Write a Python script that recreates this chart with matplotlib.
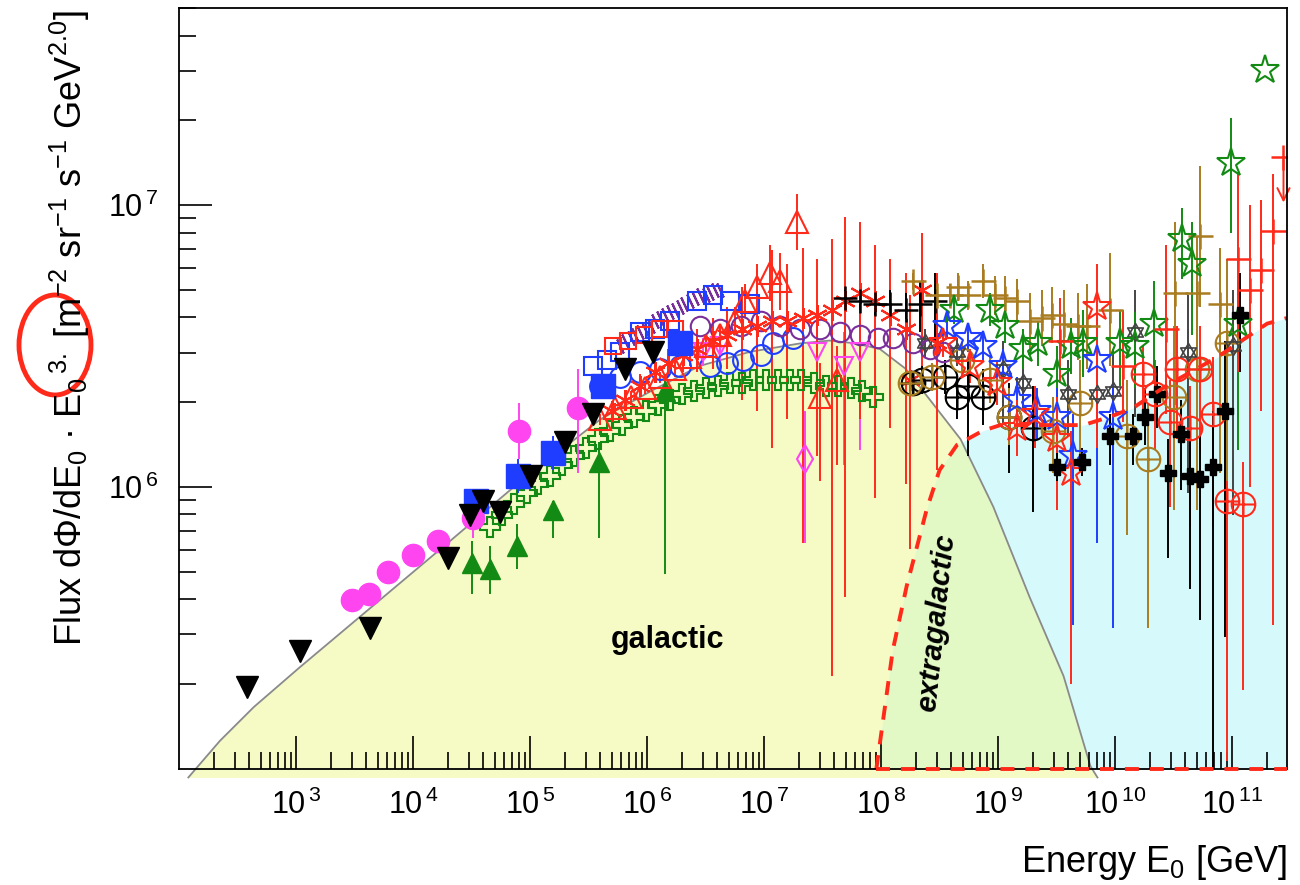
import numpy as np
import matplotlib.pyplot as plt
from matplotlib.path import Path
from matplotlib.patches import Ellipse
from matplotlib.ticker import LogLocator, NullFormatter, FuncFormatter

plt.rcParams['font.family'] = 'Liberation Sans'
plt.rcParams['mathtext.fontset'] = 'custom'
plt.rcParams['mathtext.rm'] = 'Liberation Sans'
plt.rcParams['mathtext.it'] = 'Liberation Sans:italic'
plt.rcParams['mathtext.bf'] = 'Liberation Sans:bold'

RED = '#ff2a1a'
GREEN = '#138a13'
BLUE = '#1f3dff'
MAGENTA = '#ff45f0'
PURPLE = '#7a2e9a'
BROWN = '#a97c20'

# all values are log10(E / GeV) and log10(flux * E^3)
XLIM = (2.0, 11.47)
YLIM = (5.0, 7.70)
XTICKS = [3, 4, 5, 6, 7, 8, 9, 10, 11]
YTICKS = [6, 7]

# model curves
gal_lgE = [2.08, 2.35, 2.64, 3.03, 3.46, 3.89, 4.32, 4.86, 5.26, 5.60, 6.03, 6.45,
           6.88, 7.31, 7.56, 7.78, 7.99, 8.21, 8.38, 8.68, 8.96, 9.27, 9.56, 9.79, 9.85]
gal_lgF = [4.97, 5.10, 5.22, 5.36, 5.51, 5.66, 5.81, 6.00, 6.13, 6.24, 6.34, 6.43,
           6.48, 6.51, 6.52, 6.51, 6.49, 6.42, 6.33, 6.17, 5.93, 5.61, 5.33, 5.01, 4.97]
ext_lgE = [7.96, 7.97, 8.02, 8.10, 8.22, 8.39, 8.50, 8.65, 8.87, 9.02, 9.33, 9.73,
           9.96, 10.15, 10.44, 10.87, 11.30, 11.47]
ext_lgF = [5.00, 5.03, 5.18, 5.42, 5.65, 5.92, 6.06, 6.15, 6.20, 6.22, 6.22, 6.22,
           6.25, 6.28, 6.36, 6.46, 6.58, 6.60]

# low energy / direct measurements
tri_black_lgE = [2.58, 3.03, 3.63, 4.30, 4.49, 4.60, 4.74, 5.01, 5.30, 5.54, 5.81, 6.05]
tri_black_lgF = [5.29, 5.42, 5.50, 5.75, 5.90, 5.95, 5.91, 6.04, 6.16, 6.26, 6.42, 6.48]

mag_circ_lgE = [3.48, 3.62, 3.79, 4.00, 4.21, 4.51, 4.91, 5.41]
mag_circ_lgF = [5.60, 5.62, 5.70, 5.76, 5.81, 5.89, 6.20, 6.28]
mag_circ_lo = [0, 0, 0, 0, 0, 0.07, 0.10, 0.23]
mag_circ_hi = [0, 0, 0, 0, 0, 0.00, 0.10, 0.14]

blue_sq_lgE = [4.54, 4.90, 5.20, 5.62, 6.28]
blue_sq_lgF = [5.95, 6.04, 6.12, 6.36, 6.51]
blue_sq_err = [0.03, 0.06, 0.06, 0.03, 0.02]

green_tri_lgE = [4.50, 4.66, 4.89, 5.20, 5.59, 6.15]
green_tri_lgF = [5.73, 5.71, 5.79, 5.92, 6.09, 6.34]
green_tri_lo = [0.11, 0.09, 0.08, 0.10, 0.27, 0.65]
green_tri_hi = [0.08, 0.08, 0.08, 0.03, 0.07, 0.06]

green_cross_lgE = [4.66, 4.76, 4.86, 4.97, 5.07, 5.17, 5.27, 5.38, 5.48, 5.58, 5.68,
                   5.79, 5.89, 5.99, 6.09, 6.20, 6.30, 6.40, 6.50, 6.61, 6.71, 6.81,
                   6.91, 7.02, 7.12, 7.22, 7.32, 7.43, 7.53, 7.63, 7.74, 7.84, 7.93]
green_cross_lgF = [5.86, 5.90, 5.94, 5.98, 6.01, 6.04, 6.08, 6.11, 6.14, 6.17, 6.20,
                   6.22, 6.25, 6.27, 6.29, 6.31, 6.33, 6.34, 6.35, 6.36, 6.37, 6.37,
                   6.38, 6.38, 6.38, 6.38, 6.38, 6.37, 6.36, 6.36, 6.35, 6.34, 6.32]

# knee region
blue_osq_lgE = [5.54, 5.66, 5.77, 5.94, 6.07, 6.20, 6.43, 6.56, 6.71, 6.88]
blue_osq_lgF = [6.43, 6.45, 6.48, 6.55, 6.56, 6.59, 6.66, 6.68, 6.66, 6.65]

red_osq_lgE = [5.71, 5.84, 5.97, 6.11, 6.24]
red_osq_lgF = [6.50, 6.52, 6.54, 6.56, 6.56]

blue_ocirc_lgE = [5.60, 5.77, 5.94, 6.11, 6.28, 6.54, 6.68, 6.82, 6.97, 7.08, 7.25]
blue_ocirc_lgF = [6.36, 6.39, 6.41, 6.42, 6.43, 6.43, 6.44, 6.45, 6.47, 6.51, 6.53]

purple_hash_lgE = [5.77, 5.81, 5.86, 5.90, 5.94, 5.98, 6.03, 6.07, 6.11, 6.15, 6.20,
                   6.24, 6.28, 6.32, 6.37, 6.41, 6.45, 6.50, 6.54, 6.58, 6.62]
purple_hash_lgF = [6.50, 6.52, 6.53, 6.54, 6.55, 6.56, 6.57, 6.59, 6.60, 6.61, 6.62,
                   6.63, 6.64, 6.65, 6.66, 6.67, 6.68, 6.68, 6.69, 6.70, 6.70]

purple_circ_lgE = [6.45, 6.62, 6.80, 6.97, 7.14, 7.31, 7.48, 7.65, 7.82, 7.97, 8.10,
                   8.27, 8.42, 8.53]
purple_circ_lgF = [6.57, 6.56, 6.57, 6.59, 6.57, 6.56, 6.56, 6.55, 6.54, 6.53, 6.53,
                   6.51, 6.49, 6.48]

tibet_lgE = [5.60, 5.73, 5.86, 5.98, 6.11, 6.24, 6.37, 6.50, 6.62, 6.75, 6.84, 6.94,
             7.05, 7.14, 7.28, 7.48, 7.62]
tibet_lgF = [6.24, 6.28, 6.32, 6.35, 6.39, 6.42, 6.46, 6.50, 6.54, 6.59, 6.66, 6.71,
             6.76, 6.73, 6.94, 6.32, 6.38]
tibet_lo = [0.02, 0.02, 0.02, 0.02, 0.02, 0.03, 0.03, 0.03, 0.04, 0.05, 0.06, 0.08,
            0.10, 0.10, 0.10, 0.30, 0.30]
tibet_hi = [0.02, 0.02, 0.02, 0.02, 0.02, 0.03, 0.03, 0.03, 0.04, 0.05, 0.06, 0.08,
            0.10, 0.10, 0.10, 0.12, 0.12]

red_ast_lgE = [5.70, 5.81, 5.94, 6.07, 6.18, 6.31, 6.43, 6.56, 6.68, 6.81, 6.94, 7.07,
               7.20, 7.33, 7.45, 7.58, 7.69, 7.82, 7.95, 8.08, 8.21, 8.25, 8.35, 8.48]
red_ast_lgF = [6.27, 6.31, 6.36, 6.41, 6.44, 6.47, 6.49, 6.52, 6.54, 6.56, 6.57, 6.59,
               6.59, 6.60, 6.61, 6.63, 6.66, 6.69, 6.66, 6.61, 6.56, 6.38, 6.70, 6.51]
red_ast_lo = [0.03, 0.03, 0.04, 0.04, 0.05, 0.06, 0.08, 0.10, 0.12, 0.25, 0.30, 0.45,
              0.35, 0.80, 0.50, 1.30, 1.05, 0.45, 0.70, 0.40, 0.55, 0.60, 0.35, 0.45]
red_ast_hi = [0.03, 0.03, 0.04, 0.04, 0.05, 0.06, 0.07, 0.08, 0.10, 0.15, 0.20, 0.25,
              0.20, 0.25, 0.20, 0.25, 0.30, 0.25, 0.20, 0.20, 0.20, 0.30, 0.20, 0.25]

mag_tri_lgE = [6.48, 6.62, 7.45, 7.68, 7.82]
mag_tri_lgF = [6.48, 6.50, 6.48, 6.43, 6.48]
mag_tri_lo = [0.05, 0.08, 0.25, 0.35, 0.35]
mag_tri_hi = [0.05, 0.06, 0.10, 0.12, 0.20]

mag_dia_lgE = [7.35]
mag_dia_lgF = [6.10]
mag_dia_lo = [0.30]
mag_dia_hi = [0.17]

# ankle region
black_plus_lgE = [7.69, 7.82, 7.95, 8.08, 8.21, 8.33, 8.46]
black_plus_lgF = [6.67, 6.66, 6.65, 6.65, 6.63, 6.65, 6.66]
black_plus_lo = [0.03, 0.03, 0.04, 0.05, 0.08, 0.10, 0.15]
black_plus_hi = [0.03, 0.03, 0.04, 0.05, 0.06, 0.08, 0.10]

brown_plus_lgE = [8.27, 8.48, 8.59, 8.66, 8.74, 8.87, 8.97, 9.06, 9.16, 9.27, 9.38,
                  9.46, 9.56, 9.68, 9.76, 9.96, 10.51, 10.70, 10.73, 10.90]
brown_plus_lgF = [6.73, 6.68, 6.68, 6.71, 6.68, 6.73, 6.68, 6.67, 6.66, 6.59, 6.60,
                  6.61, 6.58, 6.57, 6.57, 6.63, 6.69, 6.69, 6.89, 6.65]
brown_plus_lo = [0.03, 0.03, 0.04, 0.05, 0.05, 0.06, 0.07, 0.08, 0.08, 0.10, 0.10,
                 0.10, 0.12, 0.12, 0.15, 0.20, 0.40, 0.35, 0.25, 0.60]
brown_plus_hi = [0.03, 0.03, 0.04, 0.05, 0.05, 0.06, 0.07, 0.08, 0.08, 0.10, 0.10,
                 0.10, 0.12, 0.12, 0.15, 0.20, 0.25, 0.20, 0.25, 0.20]

green_star_lgE = [8.62, 8.93, 9.06, 9.21, 9.34, 9.50, 9.62, 9.73, 10.04, 10.17, 10.33,
                  10.57, 10.66, 10.99, 11.05, 11.28]
green_star_lgF = [6.63, 6.63, 6.57, 6.49, 6.51, 6.40, 6.50, 6.51, 6.51, 6.50, 6.58,
                  6.88, 6.79, 7.15, 6.58, 7.48]
green_star_lo = [0.05, 0.06, 0.06, 0.07, 0.08, 0.10, 0.10, 0.12, 0.15, 0.15, 0.20,
                 0.14, 0.25, 0.25, 0.45, 0.0]
green_star_hi = [0.05, 0.06, 0.06, 0.07, 0.08, 0.10, 0.10, 0.12, 0.12, 0.12, 0.15,
                 0.11, 0.15, 0.16, 0.15, 0.0]

blue_star_lgE = [8.56, 8.74, 8.87, 9.04, 9.16, 9.33, 9.50, 9.64, 9.85, 9.98]
blue_star_lgF = [6.57, 6.53, 6.50, 6.43, 6.31, 6.27, 6.25, 6.11, 6.45, 6.25]
blue_star_lo = [0.04, 0.05, 0.05, 0.06, 0.08, 0.10, 0.15, 0.60, 0.65, 0.75]
blue_star_hi = [0.04, 0.05, 0.05, 0.06, 0.08, 0.08, 0.10, 0.15, 0.15, 0.12]

red_star_lgE = [8.53, 8.76, 8.99, 9.16, 9.32, 9.50, 9.62, 9.85]
red_star_lgF = [6.51, 6.43, 6.37, 6.21, 6.26, 6.17, 6.05, 6.64]
red_star_lo = [0.05, 0.06, 0.08, 0.10, 0.12, 0.25, 0.75, 0.50]
red_star_hi = [0.05, 0.06, 0.08, 0.10, 0.10, 0.15, 0.15, 0.15]

black_oplus_lgE = [8.27, 8.35, 8.55, 8.65, 8.74, 8.87, 9.09, 9.30]
black_oplus_lgF = [6.37, 6.38, 6.39, 6.32, 6.36, 6.32, 6.25, 6.21]
black_oplus_lo = [0.04, 0.05, 0.06, 0.08, 0.25, 0.10, 0.20, 0.30]
black_oplus_hi = [0.04, 0.05, 0.06, 0.08, 0.10, 0.10, 0.12, 0.15]

brown_oplus_lgE = [8.25, 8.44, 8.69, 8.93, 9.09, 9.47, 9.70, 10.10, 10.28, 10.50, 10.70,
                   10.96]
brown_oplus_lgF = [6.37, 6.39, 6.45, 6.38, 6.25, 6.20, 6.30, 6.18, 6.10, 6.32, 6.42,
                   6.51]
brown_oplus_lo = [0.04, 0.05, 0.06, 0.08, 0.10, 0.15, 0.20, 0.35, 0.60, 0.40, 0.50, 0.80]
brown_oplus_hi = [0.04, 0.05, 0.06, 0.08, 0.10, 0.12, 0.15, 0.20, 0.20, 0.25, 0.25, 0.30]

red_oplus_lgE = [10.24, 10.34, 10.47, 10.53, 10.64, 10.73, 10.84, 10.96, 11.09]
red_oplus_lgF = [6.40, 6.33, 6.23, 6.42, 6.21, 6.42, 6.26, 5.95, 5.94]
red_oplus_lo = [0.15, 0.20, 0.30, 0.25, 0.35, 0.30, 0.40, 0.92, 0.66]
red_oplus_hi = [0.10, 0.12, 0.15, 0.15, 0.15, 0.15, 0.20, 0.07, 0.15]

black_thick_lgE = [9.50, 9.72, 9.96, 10.15, 10.26, 10.36, 10.45, 10.56, 10.64, 10.73,
                   10.84, 10.94, 11.07]
black_thick_lgF = [6.07, 6.09, 6.18, 6.18, 6.25, 6.33, 6.05, 6.19, 6.04, 6.03, 6.07,
                   6.27, 6.61]
black_thick_lo = [0.05, 0.05, 0.10, 0.10, 0.10, 0.12, 0.30, 0.20, 0.40, 0.50, 1.20,
                  0.80, 0.20]
black_thick_hi = [0.05, 0.05, 0.08, 0.08, 0.10, 0.10, 0.12, 0.12, 0.15, 0.15, 0.20,
                  0.25, 0.15]

black_hex_lgE = [8.38, 8.65, 9.04, 9.21, 9.60, 9.85, 9.98, 10.17, 10.62, 11.01]
black_hex_lgF = [6.51, 6.48, 6.42, 6.37, 6.33, 6.33, 6.34, 6.55, 6.48, 6.50]
black_hex_lo = [0.05, 0.05, 0.20, 0.10, 0.15, 0.15, 0.25, 0.30, 0.50, 0.60]
black_hex_hi = [0.05, 0.05, 0.10, 0.10, 0.12, 0.12, 0.15, 0.15, 0.20, 0.20]

red_plus_lgE = [9.53, 10.07, 10.44, 11.05, 11.15, 11.25, 11.35]
red_plus_lgF = [6.52, 6.43, 6.56, 6.81, 6.70, 6.77, 6.91]
red_plus_lo = [0.15, 0.20, 0.30, 0.40, 0.70, 0.50, 1.40]
red_plus_hi = [0.15, 0.20, 0.30, 0.30, 0.30, 0.25, 0.20]

red_limit_lgE = [11.44]
red_limit_lgF = [7.17]

# custom marker shapes
oplus = Path.make_compound_path(
    Path.unit_circle(),
    Path([[-1, 0], [1, 0], [0, -1], [0, 1]],
         [Path.MOVETO, Path.LINETO, Path.MOVETO, Path.LINETO]))
hexagram = Path([[0, 1], [-0.866, -0.5], [0.866, -0.5], [0, 1],
                 [0, -1], [-0.866, 0.5], [0.866, 0.5], [0, -1]],
                [Path.MOVETO, Path.LINETO, Path.LINETO, Path.CLOSEPOLY] * 2)

fig = plt.figure(figsize=(13, 8.85), dpi=100)
ax = fig.add_axes([0.1377, 0.1311, 0.8523, 0.8599])
ax.set_xscale('log')
ax.set_yscale('log')
ax.set_xlim(10 ** XLIM[0], 10 ** XLIM[1])
ax.set_ylim(10 ** YLIM[0], 10 ** YLIM[1])


def p10(v):
    return 10 ** np.asarray(v, dtype=float)


# shaded galactic / extragalactic components
gal_E, gal_F = p10(gal_lgE), p10(gal_lgF)
ext_E, ext_F = p10(ext_lgE), p10(ext_lgF)
gal_fill = ax.fill_between(gal_E, gal_F.min(), gal_F, color='#f6fac4', lw=0,
                           zorder=0, clip_on=False)
ax.fill_between(ext_E, 10 ** YLIM[0], ext_F, color='#d6fafc', lw=0, zorder=0.1)
overlap = ax.fill_between(ext_E, 10 ** YLIM[0], ext_F, color='#e2f8c5', lw=0,
                          zorder=0.2)
overlap.set_clip_path(gal_fill.get_paths()[0], ax.transData)
ax.plot(gal_E, gal_F, color='#8a8a8a', lw=1.3, zorder=1, clip_on=False)


def draw(lgE, lgF, lo=None, hi=None, z=3, **kw):
    E, F = p10(lgE), p10(lgF)
    yerr = None
    if lo is not None:
        lgF = np.asarray(lgF, dtype=float)
        yerr = [F - p10(lgF - np.asarray(lo)), p10(lgF + np.asarray(hi)) - F]
    ax.errorbar(E, F, yerr=yerr, ls='none', capsize=0, elinewidth=1.4,
                zorder=z, **kw)


op = dict(mfc='none', mew=1.5)
draw(green_cross_lgE, green_cross_lgF, marker='P', ms=15, color=GREEN, **op)
draw(green_tri_lgE, green_tri_lgF, green_tri_lo, green_tri_hi, marker='^', ms=14,
     color=GREEN)
draw(blue_ocirc_lgE, blue_ocirc_lgF, marker='o', ms=15, color=BLUE, **op)
draw(purple_circ_lgE, purple_circ_lgF, marker='o', ms=14, color=PURPLE, **op)
draw(purple_hash_lgE, purple_hash_lgF, marker=(2, 2, 25), ms=11, color=PURPLE, mew=1.5)
draw(blue_osq_lgE, blue_osq_lgF, marker='s', ms=13, color=BLUE, **op)
draw(red_osq_lgE, red_osq_lgF, marker='s', ms=11, color=RED, **op)
draw(mag_tri_lgE, mag_tri_lgF, mag_tri_lo, mag_tri_hi, marker='v', ms=13,
     color=MAGENTA, **op)
draw(mag_dia_lgE, mag_dia_lgF, mag_dia_lo, mag_dia_hi, marker='d', ms=14,
     color=MAGENTA, **op)
draw(red_ast_lgE, red_ast_lgF, red_ast_lo, red_ast_hi, marker=(6, 2, 0), ms=15,
     color=RED, mew=1.5)
draw(tibet_lgE, tibet_lgF, tibet_lo, tibet_hi, marker='^', ms=16, color=RED, **op)
draw(black_plus_lgE, black_plus_lgF, black_plus_lo, black_plus_hi, marker='+',
     ms=17, color='black', mew=1.8)
draw(brown_plus_lgE, brown_plus_lgF, brown_plus_lo, brown_plus_hi, marker='+',
     ms=18, color=BROWN, mew=1.8)
draw(black_oplus_lgE, black_oplus_lgF, black_oplus_lo, black_oplus_hi, marker=oplus,
     ms=17, color='black', **op)
draw(brown_oplus_lgE, brown_oplus_lgF, brown_oplus_lo, brown_oplus_hi, marker=oplus,
     ms=17, color=BROWN, **op)
draw(red_oplus_lgE, red_oplus_lgF, red_oplus_lo, red_oplus_hi, marker=oplus,
     ms=17, color=RED, **op)
draw(black_hex_lgE, black_hex_lgF, black_hex_lo, black_hex_hi, marker=hexagram,
     ms=13, color='#444444', mfc='none', mew=1.2)
draw(green_star_lgE, green_star_lgF, green_star_lo, green_star_hi, marker='*',
     ms=21, color=GREEN, **op)
draw(blue_star_lgE, blue_star_lgF, blue_star_lo, blue_star_hi, marker='*', ms=21,
     color=BLUE, **op)
draw(red_star_lgE, red_star_lgF, red_star_lo, red_star_hi, marker='*', ms=21,
     color=RED, **op)
draw(black_thick_lgE, black_thick_lgF, black_thick_lo, black_thick_hi, marker='P',
     ms=12, color='black')
draw(red_plus_lgE, red_plus_lgF, red_plus_lo, red_plus_hi, marker='+', ms=18,
     color=RED, mew=1.8)
draw(red_limit_lgE, red_limit_lgF, marker='+', ms=18, color=RED, mew=1.8)
for e, f in zip(red_limit_lgE, red_limit_lgF):
    ax.annotate('', xy=(10 ** e, 10 ** (f - 0.17)), xytext=(10 ** e, 10 ** f),
                arrowprops=dict(arrowstyle='->', color=RED, lw=1.4,
                                mutation_scale=22), zorder=4)
draw(blue_sq_lgE, blue_sq_lgF, blue_sq_err, blue_sq_err, marker='s', ms=17,
     color=BLUE, z=4)
draw(mag_circ_lgE, mag_circ_lgF, mag_circ_lo, mag_circ_hi, marker='o', ms=16,
     color=MAGENTA, z=4)
draw(tri_black_lgE, tri_black_lgF, marker='v', ms=16, color='black', z=5)

# extragalactic component (dashed, closed along the bottom)
dash = dict(color=RED, lw=2.8, ls=(0, (3.6, 2.8)))
ax.plot(ext_E, ext_F, zorder=6, **dash)
ax.plot([ext_E[0], ext_E[-1]], [10 ** YLIM[0]] * 2, clip_on=False, zorder=9, **dash)

ax.text(0.441, 0.170, 'galactic', transform=ax.transAxes, ha='center', va='center',
        fontsize=22, fontweight='bold', zorder=7)
ax.text(0.684, 0.192, 'extragalactic', transform=ax.transAxes, ha='center',
        va='center', fontsize=21, fontweight='bold', style='italic', rotation=84,
        zorder=7)

# axes styling in ROOT fashion
root_fmt = FuncFormatter(lambda v, pos: r'$10^{\,%d}$' % round(np.log10(v)))
ax.set_xticks(p10(XTICKS))
ax.set_yticks(p10(YTICKS))
ax.xaxis.set_major_formatter(root_fmt)
ax.yaxis.set_major_formatter(root_fmt)
ax.xaxis.set_minor_locator(LogLocator(base=10, subs=np.arange(2, 10), numticks=100))
ax.yaxis.set_minor_locator(LogLocator(base=10, subs=np.arange(2, 10), numticks=100))
ax.xaxis.set_minor_formatter(NullFormatter())
ax.yaxis.set_minor_formatter(NullFormatter())
ax.tick_params(which='both', direction='in', top=False, right=False, width=1.2,
               color='black')
ax.tick_params(which='major', length=24, labelsize=22, pad=15)
ax.tick_params(which='minor', length=12)
for sp in ax.spines.values():
    sp.set_linewidth(1.3)
    sp.set_zorder(8)

fig.text(1287 / 1300, 1 - 872 / 885, 'Energy E$_0$ [GeV]', ha='right',
         va='baseline', fontsize=26)
fig.text(70 / 1300, 1 - 10 / 885,
         'Flux d\u03a6/dE$_0$ \u00b7 E$_0$$^{\\,3.}$ [m$^{-2}$ sr$^{-1}$ s$^{-1}$ '
         'GeV$^{2.0}$]',
         rotation=90, ha='center', va='top', fontsize=26)
fig.add_artist(Ellipse((55 / 1300, 1 - 345 / 885), 72 / 1300, 100 / 885,
                       transform=fig.transFigure, fill=False, ec=RED, lw=3.5))

fig.savefig('out.png', dpi=100)
